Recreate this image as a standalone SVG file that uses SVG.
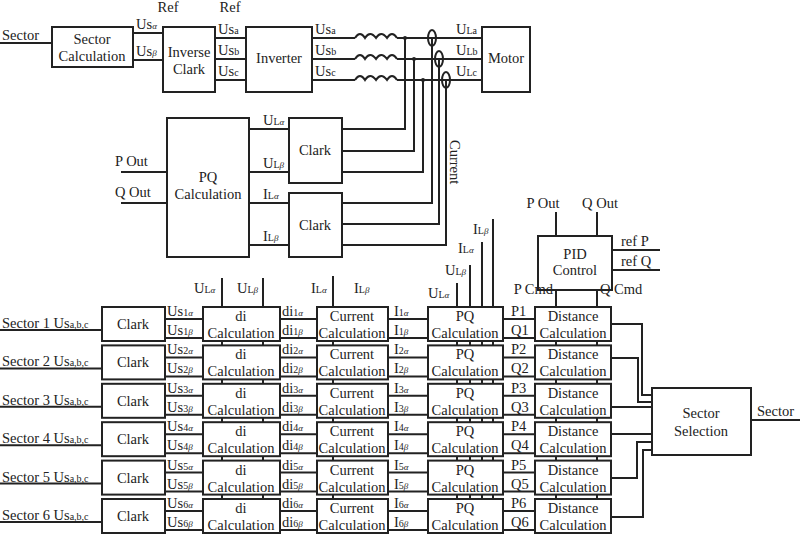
<svg xmlns="http://www.w3.org/2000/svg" width="800" height="536" viewBox="0 0 800 536" font-family="'Liberation Serif', 'DejaVu Serif', serif">
<style>
text{font-family:"Liberation Serif","DejaVu Serif",serif;font-size:14.5px;fill:#222}
.c{text-anchor:middle}
.e{text-anchor:end}
.s{font-size:10px}
.g{font-size:9px;font-style:italic}
rect{fill:#fff;stroke:#222;stroke-width:2}
line,path{stroke:#222;stroke-width:2;fill:none}
ellipse{fill:none;stroke:#222;stroke-width:2}
</style>
<rect width="800" height="536" style="fill:#fff;stroke:none"/>
<g id="connectors">
<line x1="0" y1="43" x2="52" y2="43"/>
<line x1="133" y1="33" x2="163" y2="33"/><line x1="133" y1="60" x2="163" y2="60"/>
<line x1="215" y1="38" x2="246" y2="38"/><line x1="215" y1="59" x2="246" y2="59"/><line x1="215" y1="80" x2="246" y2="80"/>
<path d="M312 38H355M397 38H482M312 59H355M397 59H482M312 80H355M397 80H482"/>
<path d="M355 38q5-8 10 0q5-8 11 0q5-8 11 0q5-8 10 0M355 59q5-8 10 0q5-8 11 0q5-8 11 0q5-8 10 0M355 80q5-8 10 0q5-8 11 0q5-8 11 0q5-8 10 0"/>
<path d="M405 38V129H342M414 59V151H342M423 80V172H342M432 38V203H342M439 59V224H342M446 80V245H342"/>
<circle cx="405" cy="38" r="2" fill="#222"/><circle cx="414" cy="59" r="2" fill="#222"/><circle cx="423" cy="80" r="2" fill="#222"/>
<ellipse cx="432" cy="38" rx="4" ry="8"/><ellipse cx="439" cy="59" rx="4" ry="8"/><ellipse cx="446" cy="80" rx="4" ry="8"/>
<path d="M249 129H289M249 172H289M249 203H289M249 245H289M121 172H167M121 203H167"/>
<path d="M556 212V236M597 212V236M612 250H660M612 270H660M556 290V307M597 290V307"/>
<path d="M222 278V533M263 278V533M333 276V533M457 283V533M470 265V533M482 242V533M493 219V533M556 307V533M597 307V533"/>
<path d="M611 324H642V395H652M611 358H638V402H652M611 407H652M611 434H652M611 478H637V442H652M611 517H643V450H652M751 420H800"/>
</g>
<g id="top">
<text x="168" y="12" class="c">Ref</text><text x="230" y="12" class="c">Ref</text>
<text x="2" y="40">Sector</text>
<g id="sectorcalc"><rect x="52" y="27" width="81" height="40"/><text x="92" y="44" class="c">Sector</text><text x="92" y="61" class="c">Calculation</text></g>
<text x="136" y="29">Us<tspan class="g">α</tspan></text><text x="136" y="56">Us<tspan class="g">β</tspan></text>
<g id="invclark"><rect x="163" y="27" width="52" height="65"/><text x="189" y="57" class="c">Inverse</text><text x="189" y="74" class="c">Clark</text></g>
<text x="218" y="34">Us<tspan class="s">a</tspan></text><text x="218" y="55">Us<tspan class="s">b</tspan></text><text x="218" y="76">Us<tspan class="s">c</tspan></text>
<g id="inverter"><rect x="246" y="27" width="66" height="65"/><text x="279" y="63" class="c">Inverter</text></g>
<text x="315" y="34">Us<tspan class="s">a</tspan></text><text x="315" y="55">Us<tspan class="s">b</tspan></text><text x="315" y="76">Us<tspan class="s">c</tspan></text>
<text x="456" y="34">U<tspan class="s">La</tspan></text><text x="456" y="55">U<tspan class="s">Lb</tspan></text><text x="456" y="76">U<tspan class="s">Lc</tspan></text>
<g id="motor"><rect x="482" y="27" width="48" height="65"/><text x="506" y="63" class="c">Motor</text></g>
<text x="450" y="140" transform="rotate(90 450 140)">Current</text>
</g>
<g id="pqtop">
<text x="115" y="166">P Out</text><text x="115" y="197">Q Out</text>
<rect x="167" y="118" width="82" height="139"/><text x="208" y="182" class="c">PQ</text><text x="208" y="199" class="c">Calculation</text>
<text x="263" y="125">U<tspan class="s">L</tspan><tspan class="g">α</tspan></text><text x="263" y="168">U<tspan class="s">L</tspan><tspan class="g">β</tspan></text>
<text x="263" y="199">I<tspan class="s">L</tspan><tspan class="g">α</tspan></text><text x="263" y="241">I<tspan class="s">L</tspan><tspan class="g">β</tspan></text>
<g id="clark-u"><rect x="289" y="118" width="53" height="65"/><text x="315" y="155" class="c">Clark</text></g>
<g id="clark-i"><rect x="289" y="193" width="53" height="64"/><text x="315" y="230" class="c">Clark</text></g>
</g>
<g id="pid">
<text x="543" y="208" class="c">P Out</text><text x="600" y="208" class="c">Q Out</text>
<rect x="538" y="236" width="74" height="54"/><text x="575" y="259" class="c">PID</text><text x="575" y="275" class="c">Control</text>
<text x="621" y="246">ref P</text><text x="621" y="266">ref Q</text>
<text x="553" y="294" class="e">P Cmd</text><text x="600" y="294">Q Cmd</text>
</g>
<g id="inlabels">
<text x="194" y="293">U<tspan class="s">L</tspan><tspan class="g">α</tspan></text>
<text x="237" y="293">U<tspan class="s">L</tspan><tspan class="g">β</tspan></text>
<text x="311" y="293">I<tspan class="s">L</tspan><tspan class="g">α</tspan></text>
<text x="354" y="293">I<tspan class="s">L</tspan><tspan class="g">β</tspan></text>
<text x="428" y="298">U<tspan class="s">L</tspan><tspan class="g">α</tspan></text>
<text x="445" y="275">U<tspan class="s">L</tspan><tspan class="g">β</tspan></text>
<text x="458" y="253">I<tspan class="s">L</tspan><tspan class="g">α</tspan></text>
<text x="473" y="234">I<tspan class="s">L</tspan><tspan class="g">β</tspan></text>
</g>
<g id="row1" transform="translate(0,307)">
<line x1="0" y1="23" x2="102" y2="23"/><path d="M165 12H203M165 31H203M280 12H317M280 31H317M388 12H428M388 31H428M503 12H535M503 31H535"/>
<text x="2" y="21">Sector 1 Us<tspan class="s">a,b,c</tspan></text>
<rect x="102" y="0" width="63" height="34"/><text x="133" y="22" class="c">Clark</text>
<text x="167" y="9">Us<tspan class="s">1</tspan><tspan class="g">α</tspan></text><text x="167" y="28">Us<tspan class="s">1</tspan><tspan class="g">β</tspan></text>
<rect x="203" y="0" width="77" height="34"/><text x="241" y="14" class="c">di</text><text x="241" y="31" class="c">Calculation</text>
<text x="282" y="9">di<tspan class="s">1</tspan><tspan class="g">α</tspan></text><text x="282" y="28">di<tspan class="s">1</tspan><tspan class="g">β</tspan></text>
<rect x="317" y="0" width="71" height="34"/><text x="352" y="14" class="c">Current</text><text x="352" y="31" class="c">Calculation</text>
<text x="394" y="9">I<tspan class="s">1</tspan><tspan class="g">α</tspan></text><text x="394" y="28">I<tspan class="s">1</tspan><tspan class="g">β</tspan></text>
<rect x="428" y="0" width="75" height="34"/><text x="465" y="14" class="c">PQ</text><text x="465" y="31" class="c">Calculation</text>
<text x="511" y="9">P1</text><text x="511" y="28">Q1</text>
<rect x="535" y="0" width="76" height="34"/><text x="573" y="14" class="c">Distance</text><text x="573" y="31" class="c">Calculation</text>
</g>
<g id="row2" transform="translate(0,345.4)">
<line x1="0" y1="23" x2="102" y2="23"/><path d="M165 12H203M165 31H203M280 12H317M280 31H317M388 12H428M388 31H428M503 12H535M503 31H535"/>
<text x="2" y="21">Sector 2 Us<tspan class="s">a,b,c</tspan></text>
<rect x="102" y="0" width="63" height="34"/><text x="133" y="22" class="c">Clark</text>
<text x="167" y="9">Us<tspan class="s">2</tspan><tspan class="g">α</tspan></text><text x="167" y="28">Us<tspan class="s">2</tspan><tspan class="g">β</tspan></text>
<rect x="203" y="0" width="77" height="34"/><text x="241" y="14" class="c">di</text><text x="241" y="31" class="c">Calculation</text>
<text x="282" y="9">di<tspan class="s">2</tspan><tspan class="g">α</tspan></text><text x="282" y="28">di<tspan class="s">2</tspan><tspan class="g">β</tspan></text>
<rect x="317" y="0" width="71" height="34"/><text x="352" y="14" class="c">Current</text><text x="352" y="31" class="c">Calculation</text>
<text x="394" y="9">I<tspan class="s">2</tspan><tspan class="g">α</tspan></text><text x="394" y="28">I<tspan class="s">2</tspan><tspan class="g">β</tspan></text>
<rect x="428" y="0" width="75" height="34"/><text x="465" y="14" class="c">PQ</text><text x="465" y="31" class="c">Calculation</text>
<text x="511" y="9">P2</text><text x="511" y="28">Q2</text>
<rect x="535" y="0" width="76" height="34"/><text x="573" y="14" class="c">Distance</text><text x="573" y="31" class="c">Calculation</text>
</g>
<g id="row3" transform="translate(0,383.8)">
<line x1="0" y1="23" x2="102" y2="23"/><path d="M165 12H203M165 31H203M280 12H317M280 31H317M388 12H428M388 31H428M503 12H535M503 31H535"/>
<text x="2" y="21">Sector 3 Us<tspan class="s">a,b,c</tspan></text>
<rect x="102" y="0" width="63" height="34"/><text x="133" y="22" class="c">Clark</text>
<text x="167" y="9">Us<tspan class="s">3</tspan><tspan class="g">α</tspan></text><text x="167" y="28">Us<tspan class="s">3</tspan><tspan class="g">β</tspan></text>
<rect x="203" y="0" width="77" height="34"/><text x="241" y="14" class="c">di</text><text x="241" y="31" class="c">Calculation</text>
<text x="282" y="9">di<tspan class="s">3</tspan><tspan class="g">α</tspan></text><text x="282" y="28">di<tspan class="s">3</tspan><tspan class="g">β</tspan></text>
<rect x="317" y="0" width="71" height="34"/><text x="352" y="14" class="c">Current</text><text x="352" y="31" class="c">Calculation</text>
<text x="394" y="9">I<tspan class="s">3</tspan><tspan class="g">α</tspan></text><text x="394" y="28">I<tspan class="s">3</tspan><tspan class="g">β</tspan></text>
<rect x="428" y="0" width="75" height="34"/><text x="465" y="14" class="c">PQ</text><text x="465" y="31" class="c">Calculation</text>
<text x="511" y="9">P3</text><text x="511" y="28">Q3</text>
<rect x="535" y="0" width="76" height="34"/><text x="573" y="14" class="c">Distance</text><text x="573" y="31" class="c">Calculation</text>
</g>
<g id="row4" transform="translate(0,422.2)">
<line x1="0" y1="23" x2="102" y2="23"/><path d="M165 12H203M165 31H203M280 12H317M280 31H317M388 12H428M388 31H428M503 12H535M503 31H535"/>
<text x="2" y="21">Sector 4 Us<tspan class="s">a,b,c</tspan></text>
<rect x="102" y="0" width="63" height="34"/><text x="133" y="22" class="c">Clark</text>
<text x="167" y="9">Us<tspan class="s">4</tspan><tspan class="g">α</tspan></text><text x="167" y="28">Us<tspan class="s">4</tspan><tspan class="g">β</tspan></text>
<rect x="203" y="0" width="77" height="34"/><text x="241" y="14" class="c">di</text><text x="241" y="31" class="c">Calculation</text>
<text x="282" y="9">di<tspan class="s">4</tspan><tspan class="g">α</tspan></text><text x="282" y="28">di<tspan class="s">4</tspan><tspan class="g">β</tspan></text>
<rect x="317" y="0" width="71" height="34"/><text x="352" y="14" class="c">Current</text><text x="352" y="31" class="c">Calculation</text>
<text x="394" y="9">I<tspan class="s">4</tspan><tspan class="g">α</tspan></text><text x="394" y="28">I<tspan class="s">4</tspan><tspan class="g">β</tspan></text>
<rect x="428" y="0" width="75" height="34"/><text x="465" y="14" class="c">PQ</text><text x="465" y="31" class="c">Calculation</text>
<text x="511" y="9">P4</text><text x="511" y="28">Q4</text>
<rect x="535" y="0" width="76" height="34"/><text x="573" y="14" class="c">Distance</text><text x="573" y="31" class="c">Calculation</text>
</g>
<g id="row5" transform="translate(0,460.6)">
<line x1="0" y1="23" x2="102" y2="23"/><path d="M165 12H203M165 31H203M280 12H317M280 31H317M388 12H428M388 31H428M503 12H535M503 31H535"/>
<text x="2" y="21">Sector 5 Us<tspan class="s">a,b,c</tspan></text>
<rect x="102" y="0" width="63" height="34"/><text x="133" y="22" class="c">Clark</text>
<text x="167" y="9">Us<tspan class="s">5</tspan><tspan class="g">α</tspan></text><text x="167" y="28">Us<tspan class="s">5</tspan><tspan class="g">β</tspan></text>
<rect x="203" y="0" width="77" height="34"/><text x="241" y="14" class="c">di</text><text x="241" y="31" class="c">Calculation</text>
<text x="282" y="9">di<tspan class="s">5</tspan><tspan class="g">α</tspan></text><text x="282" y="28">di<tspan class="s">5</tspan><tspan class="g">β</tspan></text>
<rect x="317" y="0" width="71" height="34"/><text x="352" y="14" class="c">Current</text><text x="352" y="31" class="c">Calculation</text>
<text x="394" y="9">I<tspan class="s">5</tspan><tspan class="g">α</tspan></text><text x="394" y="28">I<tspan class="s">5</tspan><tspan class="g">β</tspan></text>
<rect x="428" y="0" width="75" height="34"/><text x="465" y="14" class="c">PQ</text><text x="465" y="31" class="c">Calculation</text>
<text x="511" y="9">P5</text><text x="511" y="28">Q5</text>
<rect x="535" y="0" width="76" height="34"/><text x="573" y="14" class="c">Distance</text><text x="573" y="31" class="c">Calculation</text>
</g>
<g id="row6" transform="translate(0,499)">
<line x1="0" y1="23" x2="102" y2="23"/><path d="M165 12H203M165 31H203M280 12H317M280 31H317M388 12H428M388 31H428M503 12H535M503 31H535"/>
<text x="2" y="21">Sector 6 Us<tspan class="s">a,b,c</tspan></text>
<rect x="102" y="0" width="63" height="34"/><text x="133" y="22" class="c">Clark</text>
<text x="167" y="9">Us<tspan class="s">6</tspan><tspan class="g">α</tspan></text><text x="167" y="28">Us<tspan class="s">6</tspan><tspan class="g">β</tspan></text>
<rect x="203" y="0" width="77" height="34"/><text x="241" y="14" class="c">di</text><text x="241" y="31" class="c">Calculation</text>
<text x="282" y="9">di<tspan class="s">6</tspan><tspan class="g">α</tspan></text><text x="282" y="28">di<tspan class="s">6</tspan><tspan class="g">β</tspan></text>
<rect x="317" y="0" width="71" height="34"/><text x="352" y="14" class="c">Current</text><text x="352" y="31" class="c">Calculation</text>
<text x="394" y="9">I<tspan class="s">6</tspan><tspan class="g">α</tspan></text><text x="394" y="28">I<tspan class="s">6</tspan><tspan class="g">β</tspan></text>
<rect x="428" y="0" width="75" height="34"/><text x="465" y="14" class="c">PQ</text><text x="465" y="31" class="c">Calculation</text>
<text x="511" y="9">P6</text><text x="511" y="28">Q6</text>
<rect x="535" y="0" width="76" height="34"/><text x="573" y="14" class="c">Distance</text><text x="573" y="31" class="c">Calculation</text>
</g>
<g id="sectorsel">
<rect x="652" y="388" width="99" height="67"/><text x="701" y="418" class="c">Sector</text><text x="701" y="436" class="c">Selection</text>
<text x="757" y="416">Sector</text>
</g>
</svg>
